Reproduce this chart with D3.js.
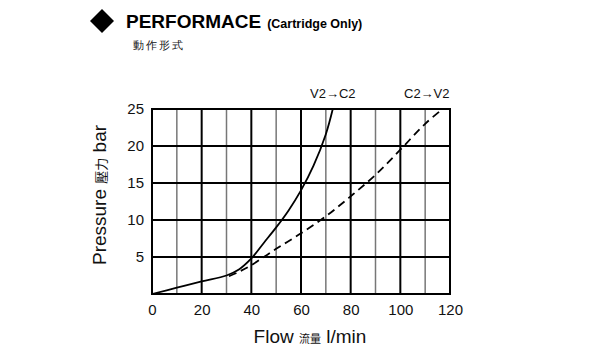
<!DOCTYPE html>
<html><head><meta charset="utf-8">
<script src="https://cdn.jsdelivr.net/npm/d3@7"></script>
<style>body{margin:0;background:#fff}svg{display:block}text{font-family:Arial,"Liberation Sans",sans-serif}</style>
</head><body><svg id="c" width="600" height="350"></svg>
<script>
const xTicks = [0,20,40,60,80,100,120];
const yTicks = [5,10,15,20,25];
const solidFlow = [0,10,20,30,35,40,45,50,55,60,65,70,72.8];
const solidPres = [0,0.85,1.7,2.5,3.3,4.8,6.9,9.0,11.3,14.0,17.3,21.6,25];
const dashFlow = [31,35,40,50,60,70,80,90,100,110,117];
const dashPres = [2.4,3.0,3.9,6.1,8.2,10.5,13.2,16.1,19.5,23.0,25];
const seriesLabels = ["V2\u2192C2","C2\u2192V2"];

const svg = d3.select("#c");
const x = d3.scaleLinear().domain([0,120]).range([152,450]);
const y = d3.scaleLinear().domain([0,25]).range([294,109]);

// grid
const g = svg.append("g");
d3.range(10,120,10).forEach(v=>{
  g.append("line").attr("x1",x(v)).attr("x2",x(v)).attr("y1",y(0)).attr("y2",y(25))
   .attr("stroke", v%20===0 ? "#000" : "#777").attr("stroke-width", v%20===0 ? 2 : 1.5);
});
yTicks.forEach(v=>{
  g.append("line").attr("x1",x(0)).attr("x2",x(120)).attr("y1",y(v)).attr("y2",y(v))
   .attr("stroke","#000").attr("stroke-width",2);
});
g.append("rect").attr("x",x(0)).attr("y",y(25)).attr("width",x(120)-x(0)).attr("height",y(0)-y(25))
 .attr("fill","none").attr("stroke","#000").attr("stroke-width",2);

// axes
const xa = svg.append("g").attr("transform",`translate(0,${y(0)})`)
  .call(d3.axisBottom(x).tickValues(xTicks).tickSize(0).tickPadding(10));
xa.select(".domain").remove();
xa.selectAll("text").attr("font-size",15).attr("fill","#111").attr("font-family","Arial,'Liberation Sans',sans-serif");
const ya = svg.append("g").attr("transform",`translate(${x(0)},0)`)
  .call(d3.axisLeft(y).tickValues(yTicks).tickSize(0).tickPadding(8));
ya.select(".domain").remove();
ya.selectAll("text").attr("font-size",15).attr("fill","#111").attr("font-family","Arial,'Liberation Sans',sans-serif");

// curves
const line = d3.line().x(d=>x(d[0])).y(d=>y(d[1])).curve(d3.curveCatmullRom.alpha(0.5));
svg.append("path").datum(solidFlow.map((f,i)=>[f,solidPres[i]])).attr("d",line)
  .attr("fill","none").attr("stroke","#000").attr("stroke-width",1.8);
svg.append("path").datum(dashFlow.map((f,i)=>[f,dashPres[i]])).attr("d",line)
  .attr("fill","none").attr("stroke","#000").attr("stroke-width",1.8).attr("stroke-dasharray","8,5");

// series labels
svg.append("text").attr("x",310).attr("y",98).attr("font-size",13).attr("fill","#111").text(seriesLabels[0]);
svg.append("text").attr("x",404).attr("y",98).attr("font-size",13).attr("fill","#111").text(seriesLabels[1]);

// title
svg.append("path").attr("d","M102,9 L114,21 L102,33 L90,21 Z").attr("fill","#000");
const t = svg.append("text").attr("x",126).attr("y",28).attr("fill","#000");
t.append("tspan").attr("font-size",19).attr("font-weight","bold").text("PERFORMACE");
t.append("tspan").attr("font-size",12.5).attr("font-weight","bold").attr("dx",6).text("(Cartridge Only)");
svg.append("text").attr("x",133).attr("y",49).attr("font-size",11).attr("letter-spacing",2)
  .attr("font-family","'Noto Sans CJK TC',sans-serif").attr("fill","#111").text("動作形式");

// axis titles
const yl = svg.append("text").attr("transform","translate(106,195) rotate(-90)").attr("text-anchor","middle").attr("fill","#111");
yl.append("tspan").attr("font-size",19).text("Pressure ");
yl.append("tspan").attr("font-size",13).attr("font-family","'Noto Sans CJK TC',sans-serif").text("壓力");
yl.append("tspan").attr("font-size",19).text(" bar");
const xl = svg.append("text").attr("x",310).attr("y",343).attr("text-anchor","middle").attr("fill","#111");
xl.append("tspan").attr("font-size",19).text("Flow ");
xl.append("tspan").attr("font-size",11).attr("font-family","'Noto Sans CJK TC',sans-serif").text("流量");
xl.append("tspan").attr("font-size",19).text(" l/min");
</script></body></html>
